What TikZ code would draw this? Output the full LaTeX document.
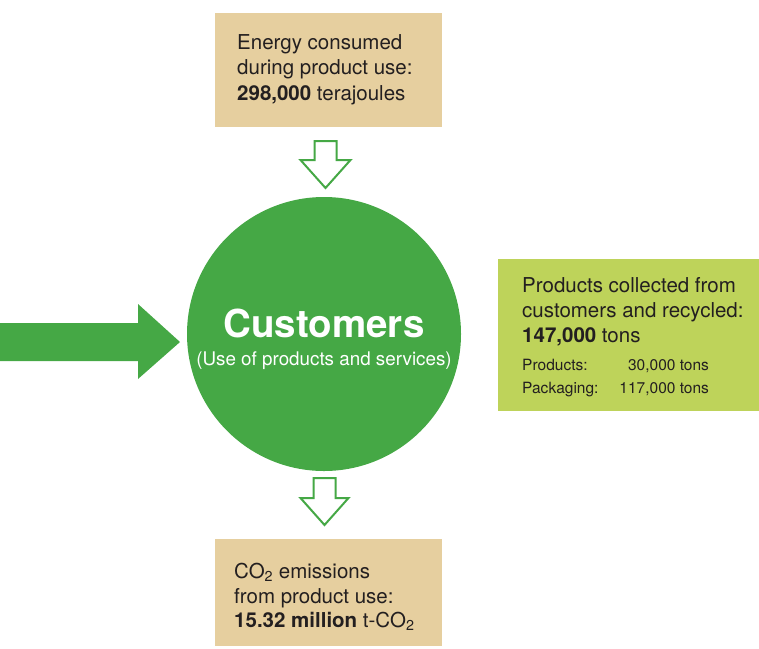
\documentclass[tikz,border=0pt]{standalone}
\usepackage{fontspec}
\setmainfont{TeX Gyre Heros}
\usepackage{xcolor}
\definecolor{sandbox}{HTML}{E6CF9F}
\definecolor{leafgreen}{HTML}{45A845}
\definecolor{limebox}{HTML}{BED35A}
\definecolor{ink}{HTML}{231F20}

\begin{document}
\begin{tikzpicture}[x=1pt,y=-1pt,
        boxtext/.style={align=left, inner sep=0pt, text=ink, anchor=north west, font=\fontsize{20.5}{25.5}\selectfont},
        panel/.style={inner sep=0pt, minimum width=#1},
        hollowarrow/.style={draw=leafgreen, line width=2pt, fill=white, line join=miter}]
        \useasboundingbox (0,0) rectangle (759,648);
        % boxes
        \node[panel=227pt, fill=sandbox, minimum height=114pt] (energy) at (328.5,70) {};
        \node[panel=261pt, fill=limebox, minimum height=152pt] (recycled) at (628.5,335) {};
        \node[panel=227pt, fill=sandbox, minimum height=107pt] (emissions) at (328.5,592.5) {};
        %
        \node[boxtext] (energytext) at (237,34) {Energy consumed\\during product use:\\\textbf{298,000} terajoules};
        \node[boxtext, font=\fontsize{20.5}{25}\selectfont] (recycledtext) at (522,277) {Products collected from\\customers and recycled:\\\textbf{147,000} tons};
        \node[boxtext, font=\fontsize{15.5}{23}\selectfont] (recycledsplit) at (522,354) {\begin{tabular}{@{}l@{\hspace{21pt}}r@{}}Products: & 30,000 tons\\Packaging: & 117,000 tons\end{tabular}};
        \node[boxtext, font=\fontsize{20.5}{24.5}\selectfont] (emissionstext) at (234,563) {CO\textsubscript{2} emissions\\from product use:\\\textbf{15.32 million} t-CO\textsubscript{2}};
        % customers
        \node[circle, fill=leafgreen, minimum size=274pt, inner sep=0pt, text=white, align=center, font=\fontsize{18.8}{28}\selectfont] (customers) at (324,334) {\rule{0pt}{40pt}{\fontsize{38.5}{28}\selectfont\bfseries Customers}\\(Use of products and services)};
        % arrows
        \fill[leafgreen] (0,323) -- (138,323) -- (138,304) -- (180,342) -- (138,379) -- (138,361) -- (0,361) -- cycle;
        \draw[hollowarrow] (314.5,141) -- ++(22,0) -- ++(0,19) -- ++(14,0) -- ++(-25,28) -- ++(-25,-28) -- ++(14,0) -- cycle;
        \draw[hollowarrow] (313.5,478) -- ++(22,0) -- ++(0,20) -- ++(13,0) -- ++(-24,27) -- ++(-24,-27) -- ++(13,0) -- cycle;
\end{tikzpicture}
\end{document}
